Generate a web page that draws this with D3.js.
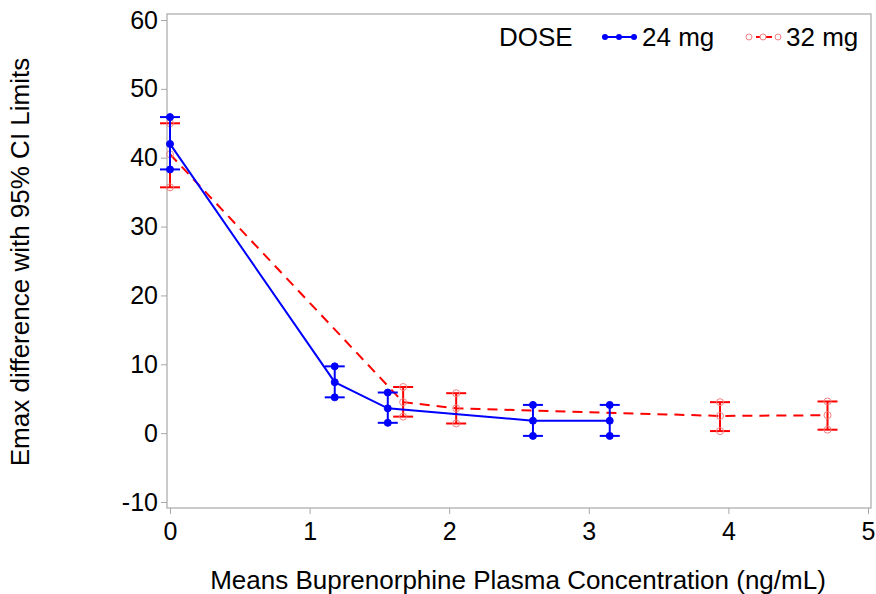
<!DOCTYPE html>
<html>
<head>
<meta charset="utf-8">
<script src="https://cdn.jsdelivr.net/npm/d3@7"></script>
<style>
  body { margin: 0; background: #fff; }
  text { font-family: "Liberation Sans", Arial, sans-serif; }
</style>
</head>
<body>
<svg id="chart"></svg>
<script>
// 24 mg series
const conc24 = [0, 1.18, 1.56, 2.60, 3.15];
const mean24 = [42.0, 7.4, 3.6, 1.8, 1.8];
const lo24 = [38.3, 5.2, 1.5, -0.4, -0.4];
const hi24 = [45.9, 9.7, 5.9, 4.1, 4.1];

// 32 mg series
const conc32 = [0, 1.67, 2.05, 3.94, 4.71];
const mean32 = [40.5, 4.5, 3.6, 2.5, 2.6];
const lo32 = [35.7, 2.4, 1.4, 0.3, 0.5];
const hi32 = [45.0, 6.7, 5.8, 4.5, 4.6];

const xTicks = [0, 1, 2, 3, 4, 5];
const yTicks = [-10, 0, 10, 20, 30, 40, 50, 60];

const width = 876, height = 594;
const fs = 25, titleFs = 26;
const svg = d3.select("#chart").attr("width", width).attr("height", height);

// scales
const x = d3.scaleLinear().domain([0, 5]).range([170, 868]);
const y = d3.scaleLinear().domain([-10, 60]).range([502, 20]);

// plot frame
const frame = { left: 167, top: 14, right: 871, bottom: 508 };
svg.append("rect")
    .attr("x", frame.left).attr("y", frame.top)
    .attr("width", frame.right - frame.left)
    .attr("height", frame.bottom - frame.top)
    .attr("fill", "none").attr("stroke", "#a8a8a8").attr("stroke-width", 1.2);

// y axis (plain hyphen for negatives, like the original)
const yAxis = svg.append("g")
    .attr("transform", `translate(${frame.left},0)`)
    .call(d3.axisLeft(y).tickValues(yTicks).tickFormat(d => String(d)).tickSize(6).tickPadding(3));
yAxis.select(".domain").remove();
yAxis.selectAll("line").attr("stroke", "#a8a8a8");
yAxis.selectAll("text").attr("font-size", fs).attr("fill", "#000")
    .attr("font-family", "Liberation Sans, Arial, sans-serif");

// x axis
const xAxis = svg.append("g")
    .attr("transform", `translate(0,${frame.bottom})`)
    .call(d3.axisBottom(x).tickValues(xTicks).tickFormat(d => String(d)).tickSize(6).tickPadding(8));
xAxis.select(".domain").remove();
xAxis.selectAll("line").attr("stroke", "#a8a8a8");
xAxis.selectAll("text").attr("font-size", fs).attr("fill", "#000")
    .attr("font-family", "Liberation Sans, Arial, sans-serif");

// axis titles
svg.append("text")
    .attr("x", 518).attr("y", 589)
    .attr("text-anchor", "middle").attr("font-size", titleFs)
    .text("Means Buprenorphine Plasma Concentration (ng/mL)");
svg.append("text")
    .attr("transform", "translate(29,262) rotate(-90)")
    .attr("text-anchor", "middle").attr("font-size", titleFs)
    .text("Emax difference with 95% CI Limits");

// series drawing
function drawSeries(conc, mean, lo, hi, color, dashed, filled, capHalf) {
    const pts = conc.map((c, i) => ({ c: c, m: mean[i], lo: lo[i], hi: hi[i] }));
    const g = svg.append("g");

    g.append("path")
        .datum(pts)
        .attr("fill", "none")
        .attr("stroke", color)
        .attr("stroke-width", 2)
        .attr("stroke-dasharray", dashed ? "10,7" : null)
        .attr("d", d3.line().x(d => x(d.c)).y(d => y(d.m)));

    // error bars
    g.selectAll(".bar").data(pts).enter().append("line")
        .attr("x1", d => x(d.c)).attr("x2", d => x(d.c))
        .attr("y1", d => y(d.lo)).attr("y2", d => y(d.hi))
        .attr("stroke", color).attr("stroke-width", 2);
    ["lo", "hi"].forEach(k => {
        g.selectAll(".cap-" + k).data(pts).enter().append("line")
            .attr("x1", d => x(d.c) - capHalf).attr("x2", d => x(d.c) + capHalf)
            .attr("y1", d => y(d[k])).attr("y2", d => y(d[k]))
            .attr("stroke", color).attr("stroke-width", 2);
    });

    // markers at mean and CI ends
    ["m", "lo", "hi"].forEach(k => {
        g.selectAll(".mk-" + k).data(pts).enter().append("circle")
            .attr("cx", d => x(d.c)).attr("cy", d => y(d[k]))
            .attr("r", 3.5)
            .attr("fill", filled ? color : "none")
            .attr("stroke", filled ? color : "#f08080")
            .attr("stroke-width", 1);
    });
}

drawSeries(conc32, mean32, lo32, hi32, "#ff0000", true, false, 10);
drawSeries(conc24, mean24, lo24, hi24, "#0000ff", false, true, 10);

// legend
const legend = svg.append("g");
legend.append("text").attr("x", 499).attr("y", 46).attr("font-size", titleFs).text("DOSE");

const leg24 = legend.append("g");
leg24.append("line").attr("x1", 602).attr("x2", 637).attr("y1", 37).attr("y2", 37)
    .attr("stroke", "#0000ff").attr("stroke-width", 2);
[605, 619, 634].forEach(cx => leg24.append("circle").attr("cx", cx).attr("cy", 37).attr("r", 3)
    .attr("fill", "#0000ff"));
leg24.append("text").attr("x", 642).attr("y", 46).attr("font-size", titleFs).text("24 mg");

const leg32 = legend.append("g");
leg32.append("line").attr("x1", 746).attr("x2", 781).attr("y1", 37).attr("y2", 37)
    .attr("stroke", "#ff0000").attr("stroke-width", 2).attr("stroke-dasharray", "6,4");
[749, 763, 778].forEach(cx => leg32.append("circle").attr("cx", cx).attr("cy", 37).attr("r", 3)
    .attr("fill", "#fff").attr("stroke", "#f08080"));
leg32.append("text").attr("x", 786).attr("y", 46).attr("font-size", titleFs).text("32 mg");
</script>
</body>
</html>
